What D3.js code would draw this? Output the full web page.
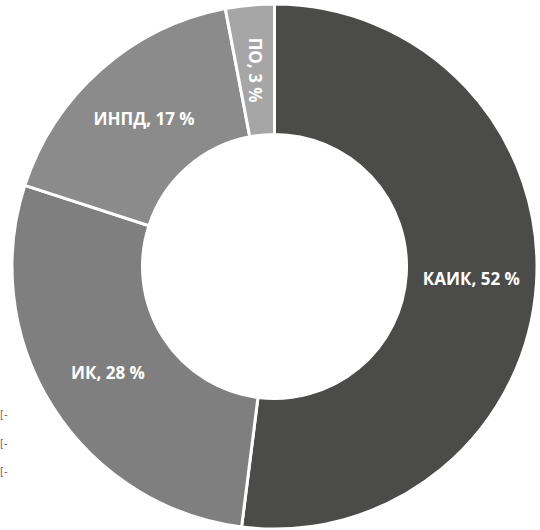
<!DOCTYPE html>
<html>
<head>
<meta charset="utf-8">
<script src="https://cdn.jsdelivr.net/npm/d3@7"></script>
<style>
  html, body { margin: 0; padding: 0; background: #fff; }
  svg { display: block; }
</style>
</head>
<body>
<svg id="chart" width="540" height="530"></svg>
<script>
// Share of each category, percent
const categories = ["КАИК", "ИК", "ИНПД", "ПО"];
const shares = [52, 28, 17, 3];
const sliceColors = ["#4b4b49", "#7f7f7f", "#8b8b8b", "#a6a6a6"];
// Clipped legend markers along the left edge
const legendMarks = ["[-", "[-", "[-"];

const width = 540, height = 530;
const cx = 274.5, cy = 266.5;
const outerR = 262.5, innerR = 132;

const svg = d3.select("#chart");
const g = svg.append("g").attr("transform", `translate(${cx},${cy})`);

const data = categories.map((c, i) => ({ name: c, value: shares[i], color: sliceColors[i] }));

const pie = d3.pie().value(d => d.value).sort(null).startAngle(0).endAngle(2 * Math.PI);
const arc = d3.arc().innerRadius(innerR).outerRadius(outerR);
const labelArc = d3.arc().innerRadius((innerR + outerR) / 2).outerRadius((innerR + outerR) / 2);

const arcs = pie(data);

g.selectAll("path.slice")
  .data(arcs)
  .join("path")
  .attr("class", "slice")
  .attr("d", arc)
  .attr("fill", d => d.data.color)
  .attr("stroke", "#fff")
  .attr("stroke-width", 3)
  .attr("stroke-linejoin", "miter");

g.selectAll("text.lbl")
  .data(arcs)
  .join("text")
  .attr("class", "lbl")
  .attr("transform", d => {
    const [x, y] = labelArc.centroid(d);
    const rot = d.data.name === "ПО" ? 90 : 0;
    return `translate(${x},${y}) rotate(${rot})`;
  })
  .attr("text-anchor", "middle")
  .attr("dominant-baseline", "central")
  .attr("fill", "#fff")
  .style("font-family", "'Open Sans', 'DejaVu Sans', sans-serif")
  .style("font-weight", "bold")
  .style("font-size", "17px")
  .text(d => `${d.data.name}, ${d.data.value} %`);

// Legend markers cut off at the left edge
const legendY = d3.scaleBand().domain(d3.range(legendMarks.length)).range([400, 486]);
svg.selectAll("text.leg")
  .data(legendMarks)
  .join("text")
  .attr("class", "leg")
  .attr("x", 0)
  .attr("y", (d, i) => legendY(i) + legendY.bandwidth() / 2)
  .attr("dominant-baseline", "central")
  .attr("fill", "#666")
  .style("font-family", "'DejaVu Sans', sans-serif")
  .style("font-size", "10px")
  .text(d => d);
</script>
</body>
</html>
